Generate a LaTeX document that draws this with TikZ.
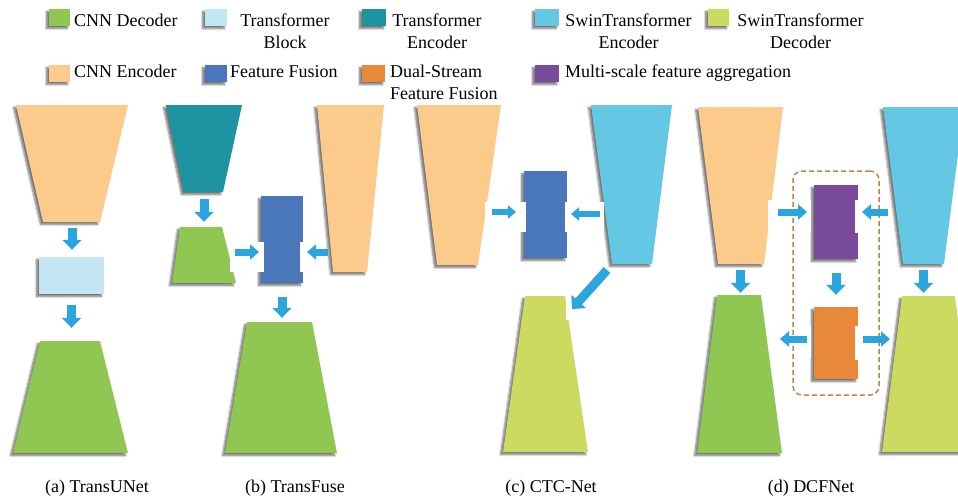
\documentclass[tikz,border=0pt]{standalone}
\usepackage{fontspec}
\setmainfont{Liberation Serif}
\usetikzlibrary{arrows.meta,shadows,shadows.blur,fit,calc}
\definecolor{cnndec}{HTML}{8FC752}
\definecolor{cnnenc}{HTML}{FCCB8C}
\definecolor{tblock}{HTML}{C4E6F2}
\definecolor{tenc}{HTML}{1E93A1}
\definecolor{swenc}{HTML}{64C8E4}
\definecolor{swdec}{HTML}{CCDB60}
\definecolor{ffusion}{HTML}{4A76BA}
\definecolor{dsff}{HTML}{E8893A}
\definecolor{msfa}{HTML}{7A4A9B}
\definecolor{arrowblue}{HTML}{2AA5DE}
\definecolor{dashcol}{HTML}{BC854F}
\tikzset{
  shp/.style={blur shadow={shadow xshift=-2.5pt,shadow yshift=-2.5pt,shadow blur radius=2pt,shadow blur steps=6,shadow opacity=55}},
  blk/.style={shp,inner sep=0pt,draw=none},
  arr/.style={draw=arrowblue,line width=9pt,-{Triangle[width=19pt,length=10pt]}},
  arrs/.style={draw=arrowblue,line width=7pt,-{Triangle[width=15pt,length=9pt]}},
  arrxs/.style={draw=arrowblue,line width=6pt,-{Triangle[width=13pt,length=8pt]}},
  notch/.style={fill=white,draw=none},
  lbl/.style={font=\fontsize{18}{22}\selectfont,inner sep=0pt},
  swatch/.style={shp,inner sep=0pt,draw=none},
  groupbox/.style={draw=dashcol,dash pattern=on 5pt off 3pt,line width=1.5pt,rounded corners=9pt,inner sep=0pt}
}
\newcommand\trapz[6]{%
  \fill[#2,shp] #3 -- #4 -- #5 -- #6 -- cycle;
  \node[fit={#3 #4 #5 #6},inner sep=0pt] (#1) {};}
\begin{document}
\begin{tikzpicture}[x=1pt,y=-1pt]
\useasboundingbox (0,0) rectangle (958,498);
\clip (0,0) rectangle (958,498);
% ---------- legend ----------
\node[swatch,fill=cnndec,fit={(49,9)(70,26)}] (s1) {};
\node[lbl,anchor=base west] (t1) at (74,26) {CNN Decoder};
\node[swatch,fill=tblock,fit={(205,9)(227,26)}] (s2) {};
\node[lbl,align=center,anchor=north] (t2) at (285,13.7) {Transformer\\Block};
\node[swatch,fill=tenc,fit={(362,9)(386,26)}] (s3) {};
\node[lbl,align=center,anchor=north] (t3) at (437,13.7) {Transformer\\Encoder};
\node[swatch,fill=swenc,fit={(535,9)(559,26)}] (s4) {};
\node[lbl,align=center,anchor=north] (t4) at (628.5,13.7) {SwinTransformer\\Encoder};
\node[swatch,fill=swdec,fit={(708,9)(729,26)}] (s5) {};
\node[lbl,align=center,anchor=north] (t5) at (800.5,13.7) {SwinTransformer\\Decoder};
\node[swatch,fill=cnnenc,fit={(49,65)(70,82)}] (s6) {};
\node[lbl,anchor=base west] (t6) at (74,77) {CNN Encoder};
\node[swatch,fill=ffusion,fit={(205,65)(227,82)}] (s7) {};
\node[lbl,anchor=base west] (t7) at (230,77) {Feature Fusion};
\node[swatch,fill=dsff,fit={(362,65)(385,82)}] (s8) {};
\node[lbl,align=left,anchor=north west] (t8) at (390,64.7) {Dual-Stream\\Feature Fusion};
\node[swatch,fill=msfa,fit={(535,65)(559,82)}] (s9) {};
\node[lbl,anchor=base west] (t9) at (565,77) {Multi-scale feature aggregation};
% ---------- (a) TransUNet ----------
\trapz{aE}{cnnenc}{(16,105)}{(128,105)}{(100,222)}{(43,222)}
\node[blk,fill=tblock,fit={(39,257)(104,294)}] (aT) {};
\trapz{aD}{cnndec}{(40,341)}{(100,341)}{(128,453)}{(13,453)}
% ---------- (b) TransFuse ----------
\trapz{bT}{tenc}{(166,105)}{(242,105)}{(223,192)}{(184,192)}
\trapz{bG}{cnndec}{(180,227)}{(222,227)}{(236,283)}{(172,283)}
\node[blk,fill=ffusion,fit={(261,196)(303,283)}] (bF) {};
\trapz{bO}{cnnenc}{(317,105)}{(384,105)}{(367,272)}{(333,272)}
\trapz{bD}{cnndec}{(247,322)}{(312,322)}{(337,453)}{(225,453)}
% ---------- (c) CTC-Net ----------
\trapz{cE}{cnnenc}{(417,105)}{(501,105)}{(478,265)}{(437,265)}
\node[blk,fill=ffusion,fit={(524,171)(567,258)}] (cF) {};
\trapz{cS}{swenc}{(591,105)}{(672,105)}{(652,264)}{(612,264)}
\trapz{cD}{swdec}{(525,296)}{(565,296)}{(588,452)}{(503,452)}
% ---------- (d) DCFNet ----------
\trapz{dE}{cnnenc}{(698,107)}{(783,107)}{(764,264)}{(718,264)}
\trapz{dD}{cnndec}{(717,295)}{(761,295)}{(782,453)}{(697,453)}
\node[blk,fill=msfa,fit={(814,185)(858,259)}] (dM) {};
\node[blk,fill=dsff,fit={(814,307)(858,379)}] (dF) {};
\trapz{dS}{swenc}{(883,107)}{(964,107)}{(944,264)}{(903,264)}
\trapz{dY}{swdec}{(902,296)}{(955,296)}{(975,452)}{(882,452)}
% ---------- white gaps behind the arrows ----------
\fill[notch] (230,242) rectangle (264,272);
\fill[notch] (300,242) rectangle (320,272);
\fill[notch] (485,202) rectangle (526,232);
\fill[notch] (565,202) rectangle (604,232);
\fill[notch] (566,286) rectangle (610,320);
\fill[notch] (768,200) rectangle (811,233);
\fill[notch] (855,200) rectangle (890,233);
\fill[notch] (775,326) rectangle (811,358);
\fill[notch] (855,326) rectangle (889,360);
% ---------- dashed group ----------
\node[groupbox,fit={(793,171)(879,395)}] (dG) {};
% ---------- arrow end points ----------
\coordinate (b2s) at (235,252); \coordinate (b2e) at (259,252);
\coordinate (b3s) at (328,252); \coordinate (b3e) at (307,252);
\coordinate (c1s) at (492,212); \coordinate (c1e) at (516,212);
\coordinate (c2s) at (600,214); \coordinate (c2e) at (571,214);
\coordinate (c3s) at (607,270); \coordinate (c3e) at (572,309);
\coordinate (d3s) at (778,212); \coordinate (d3e) at (807,212);
\coordinate (d4s) at (888,212); \coordinate (d4e) at (862,212);
\coordinate (d6s) at (807,339); \coordinate (d6e) at (780,339);
\coordinate (d7s) at (863,339); \coordinate (d7e) at (890,339);
% ---------- arrows ----------
\draw[arr,shorten <=6pt,shorten >=7pt] (aE.south) -- (aE.south |- aT.north);
\draw[arr,shorten <=11pt,shorten >=13pt] (aT.south) -- (aT.south |- aD.north);
\draw[arr,shorten <=7pt,shorten >=5pt] (bT.south) -- (bT.south |- bG.north);
\draw[arrs] (b2s) -- (b2e);
\draw[arrs] (b3s) -- (b3e);
\draw[arr,shorten <=14pt,shorten >=4pt] (bF.south) -- (bF.south |- bD.north);
\draw[arrxs] (c1s) -- (c1e);
\draw[arrxs] (c2s) -- (c2e);
\draw[arr] (c3s) -- (c3e);
\draw[arr,shorten <=6pt,shorten >=2pt] (dE.south) -- (dE.south |- dD.north);
\draw[arr,shorten <=6pt,shorten >=3pt] (dS.south) -- (dS.south |- dY.north);
\draw[arrs] (d3s) -- (d3e);
\draw[arrs] (d4s) -- (d4e);
\draw[arr,shorten <=14pt,shorten >=12pt] (dM.south) -- (dM.south |- dF.north);
\draw[arrs] (d6s) -- (d6e);
\draw[arrs] (d7s) -- (d7e);
% ---------- captions ----------
\node[lbl,anchor=base] (capa) at (97,492) {(a) TransUNet};
\node[lbl,anchor=base] (capb) at (295,492) {(b) TransFuse};
\node[lbl,anchor=base] (capc) at (551,492) {(c) CTC-Net};
\node[lbl,anchor=base] (capd) at (811,492) {(d) DCFNet};
\end{tikzpicture}
\end{document}
